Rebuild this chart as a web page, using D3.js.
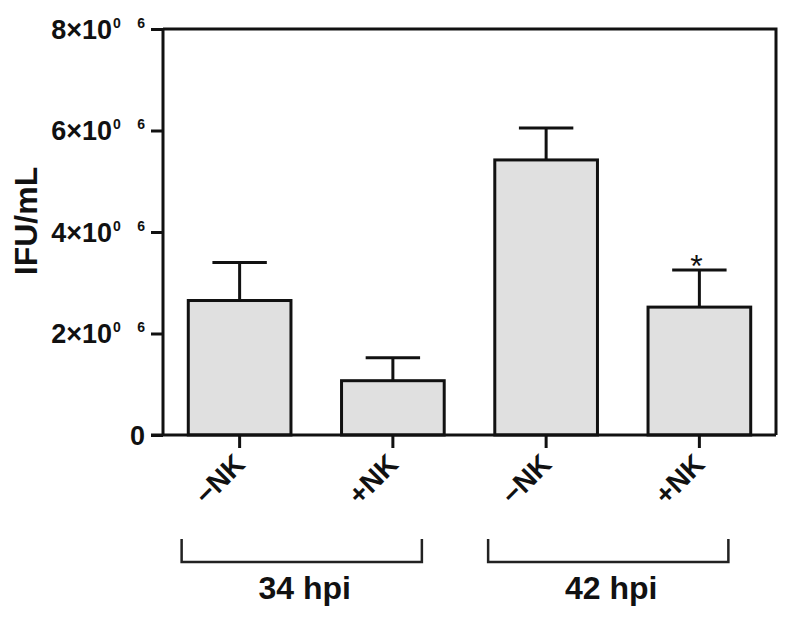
<!DOCTYPE html>
<html>
<head>
<meta charset="utf-8">
<script src="https://cdn.jsdelivr.net/npm/d3@7"></script>
<style>
  body { margin: 0; background: #fff; }
  text { font-family: "Liberation Sans", Arial, sans-serif; fill: #111; }
</style>
</head>
<body>
<div id="chart"></div>
<script>
// data
const keys = ["34-NK", "34+NK", "42-NK", "42+NK"];
const barLabels = ["\u2212NK", "+NK", "\u2212NK", "+NK"];
const means = [2.65e6, 1.07e6, 5.42e6, 2.52e6];
const errors = [0.75e6, 0.45e6, 0.63e6, 0.73e6];
const marks = ["", "", "", "*"];
const groups = ["34 hpi", "42 hpi"];
const groupMembers = [["34-NK", "34+NK"], ["42-NK", "42+NK"]];
const yTicks = [0, 2e6, 4e6, 6e6, 8e6];
const yTickLabels = ["0", "2\u00d710", "4\u00d710", "6\u00d710", "8\u00d710"];
const yTickSup = ["", "0", "0", "0", "0"];
const yTickSup2 = ["", "6", "6", "6", "6"];

const width = 792, height = 620;
const margin = {top: 29, right: 16, bottom: 185, left: 163};

const svg = d3.select("#chart").append("svg")
    .attr("width", width)
    .attr("height", height);

const x = d3.scaleBand()
    .domain(keys)
    .range([margin.left, width - margin.right])
    .paddingInner(0.33)
    .paddingOuter(0.165);

const y = d3.scaleLinear()
    .domain([0, 8e6])
    .range([height - margin.bottom, margin.top]);

const ink = "#111";
const lw = 3;

// bars
svg.selectAll(".bar")
    .data(keys)
    .enter().append("rect")
    .attr("class", "bar")
    .attr("x", d => x(d))
    .attr("width", x.bandwidth())
    .attr("y", (d, i) => y(means[i]))
    .attr("height", (d, i) => y(0) - y(means[i]))
    .attr("fill", "#e0e0e0")
    .attr("stroke", ink)
    .attr("stroke-width", lw);

// error bars (upper only)
const capW = x.bandwidth() * 0.53;
const cx = d => x(d) + x.bandwidth() / 2;
svg.selectAll(".stem")
    .data(keys)
    .enter().append("line")
    .attr("x1", cx).attr("x2", cx)
    .attr("y1", (d, i) => y(means[i]))
    .attr("y2", (d, i) => y(means[i] + errors[i]))
    .attr("stroke", ink).attr("stroke-width", lw);
svg.selectAll(".cap")
    .data(keys)
    .enter().append("line")
    .attr("x1", d => cx(d) - capW / 2).attr("x2", d => cx(d) + capW / 2)
    .attr("y1", (d, i) => y(means[i] + errors[i]))
    .attr("y2", (d, i) => y(means[i] + errors[i]))
    .attr("stroke", ink).attr("stroke-width", lw);

svg.selectAll(".mark")
    .data(keys)
    .enter().append("text")
    .attr("x", d => cx(d) - 3)
    .attr("y", (d, i) => y(means[i] + errors[i]) + 7)
    .attr("text-anchor", "middle")
    .style("font-size", "32px")
    .text((d, i) => marks[i]);

// frame: top and right
svg.append("path")
    .attr("d", `M${margin.left},${y(8e6)}H${width - margin.right}V${y(0)}`)
    .attr("fill", "none")
    .attr("stroke", ink).attr("stroke-width", lw);

// y axis
const yAxis = svg.append("g")
    .attr("transform", `translate(${margin.left},0)`)
    .call(d3.axisLeft(y).tickValues(yTicks).tickSize(12).tickFormat(""));
yAxis.selectAll("path, line").attr("stroke", ink).attr("stroke-width", lw);
yAxis.select(".domain").attr("d", `M0,${y(8e6)}V${y(0)}`);
yAxis.selectAll(".tick text").remove();
yAxis.selectAll(".tick").each(function(d, i) {
    const g = d3.select(this);
    const hasSup = yTickSup[i] !== "";
    g.append("text")
        .attr("x", hasSup ? -51 : -18)
        .attr("y", 9)
        .attr("text-anchor", "end")
        .style("font-size", "27px")
        .style("font-weight", "bold")
        .text(yTickLabels[i]);
    if (hasSup) {
        g.append("text")
            .attr("x", -50).attr("y", -2)
            .attr("text-anchor", "start")
            .style("font-size", "14px")
            .style("font-weight", "bold")
            .text(yTickSup[i]);
        g.append("text")
            .attr("x", -18).attr("y", -2)
            .attr("text-anchor", "end")
            .style("font-size", "14px")
            .style("font-weight", "bold")
            .text(yTickSup2[i]);
    }
});

// x axis
const xAxis = svg.append("g")
    .attr("transform", `translate(0,${y(0)})`)
    .call(d3.axisBottom(x).tickSize(13).tickFormat(""));
xAxis.selectAll("path, line").attr("stroke", ink).attr("stroke-width", lw);
xAxis.select(".domain").attr("d", `M${margin.left - 12},0H${width - margin.right}`);
xAxis.selectAll(".tick text").remove();
xAxis.selectAll(".tick").append("text")
    .attr("text-anchor", "end")
    .attr("transform", "translate(7,31) rotate(-45)")
    .style("font-size", "28px")
    .style("font-weight", "bold")
    .text((d, i) => barLabels[i]);

// y title
svg.append("text")
    .attr("transform", `translate(37,221) rotate(-90)`)
    .attr("text-anchor", "middle")
    .style("font-size", "32px")
    .style("font-weight", "bold")
    .text("IFU/mL");

// group brackets
const brTop = 539, brBot = 562;
groups.forEach((g, gi) => {
    const m = groupMembers[gi];
    const x0 = cx(m[0]) - 58, x1 = cx(m[m.length - 1]) + 29;
    svg.append("path")
        .attr("d", `M${x0},${brTop}V${brBot}H${x1}V${brTop}`)
        .attr("fill", "none")
        .attr("stroke", "#222").attr("stroke-width", 2.5);
    svg.append("text")
        .attr("x", (x0 + x1) / 2 + 3)
        .attr("y", 599)
        .attr("text-anchor", "middle")
        .style("font-size", "32px")
        .style("font-weight", "bold")
        .text(g);
});
</script>
</body>
</html>
